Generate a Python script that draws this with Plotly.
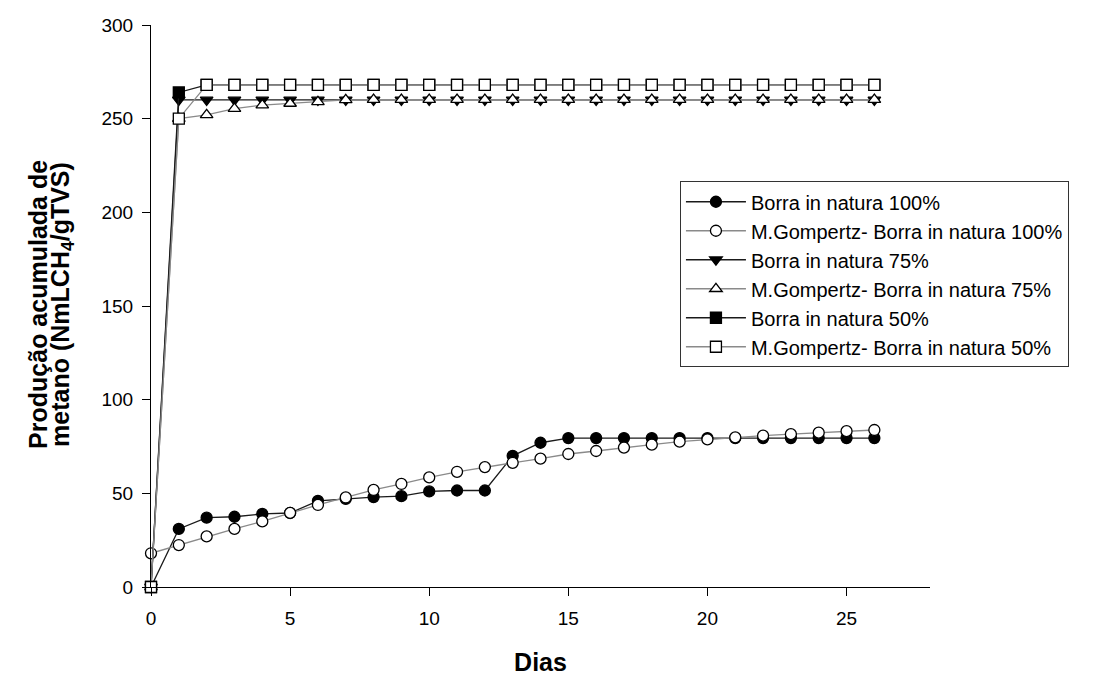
import plotly.graph_objects as go

dias = list(range(0, 27))

borra_100 = [0, 31, 37, 37.5, 39, 39.5, 46, 47, 48, 48.5, 51, 51.5, 51.5, 70, 77,
             79.5, 79.5, 79.5, 79.5, 79.5, 79.5, 79.5, 79.5, 79.5, 79.5, 79.5, 79.5]
gomp_100 = [18, 22.4, 27, 31, 35, 39.6, 43.8, 47.8, 51.8, 55, 58.5, 61.5, 64, 66.3, 68.5,
            71, 72.6, 74.4, 76, 77.6, 78.8, 79.9, 80.8, 81.6, 82.4, 83.2, 83.8]
borra_75 = [0, 260] + [260] * 25
gomp_75 = [0, 250, 252, 255.4, 257.2, 258.1, 259, 260] + [260.2] * 19
borra_50 = [0, 264] + [268] * 25
gomp_50 = [0, 250] + [268] * 25

nomes = ["Borra in natura 100%", "M.Gompertz- Borra in natura 100%",
         "Borra in natura 75%", "M.Gompertz- Borra in natura 75%",
         "Borra in natura 50%", "M.Gompertz- Borra in natura 50%"]
titulo_y = ["Produção acumulada de", "metano (NmLCH<sub>4</sub>/gTVS)"]
titulo_x = "Dias"
xticks = [0, 5, 10, 15, 20, 25]
yticks = [0, 50, 100, 150, 200, 250, 300]

series = [borra_100, gomp_100, borra_75, gomp_75, borra_50, gomp_50]
symbols = ["circle", "circle", "triangle-down", "triangle-up", "square", "square"]
fills = ["black", "white", "black", "white", "black", "white"]
linecolors = ["#1a1a1a", "#8a8a8a", "#1a1a1a", "#8a8a8a", "#1a1a1a", "#8a8a8a"]

fig = go.Figure()
for name, ys, sym, fc, lc in zip(nomes, series, symbols, fills, linecolors):
    fig.add_trace(go.Scatter(
        x=dias, y=ys, name=name, mode="lines+markers",
        line=dict(color=lc, width=1.3),
        marker=dict(symbol=sym, size=11, color=fc, line=dict(color="black", width=1.3)),
        cliponaxis=False,
    ))

fig.update_layout(
    width=1102, height=668,
    margin=dict(l=143, r=180, t=17, b=89),
    paper_bgcolor="white", plot_bgcolor="white",
    font=dict(family="Liberation Sans, Arial, sans-serif", size=19, color="black"),
    showlegend=True,
    legend=dict(
        x=0.679, y=0.722, xanchor="left", yanchor="top",
        bordercolor="#333333", borderwidth=1, bgcolor="white",
        font=dict(size=20), itemwidth=60, tracegroupgap=0,
    ),
)
fig.update_xaxes(
    range=[0, 28], tickvals=xticks, ticks="outside", ticklen=8,
    tickcolor="black", showline=True, linecolor="black", linewidth=1,
    showgrid=False, zeroline=False, ticklabelstandoff=6, automargin=False,
    title=dict(text="<b>" + titulo_x + "</b>", font=dict(size=25), standoff=28),
)
fig.update_yaxes(
    range=[0, 300], tickvals=yticks, ticks="outside", ticklen=8,
    tickcolor="black", showline=True, linecolor="black", linewidth=1,
    showgrid=False, zeroline=False, ticklabelstandoff=5, automargin=False,
)
for txt, shift in zip(titulo_y, [-113, -89]):
    fig.add_annotation(
        text="<b>" + txt + "</b>", xref="paper", yref="paper", x=0, y=0.502,
        xanchor="center", yanchor="middle", xshift=shift, textangle=-90,
        showarrow=False, font=dict(size=25),
    )

fig.write_html("out.html")
